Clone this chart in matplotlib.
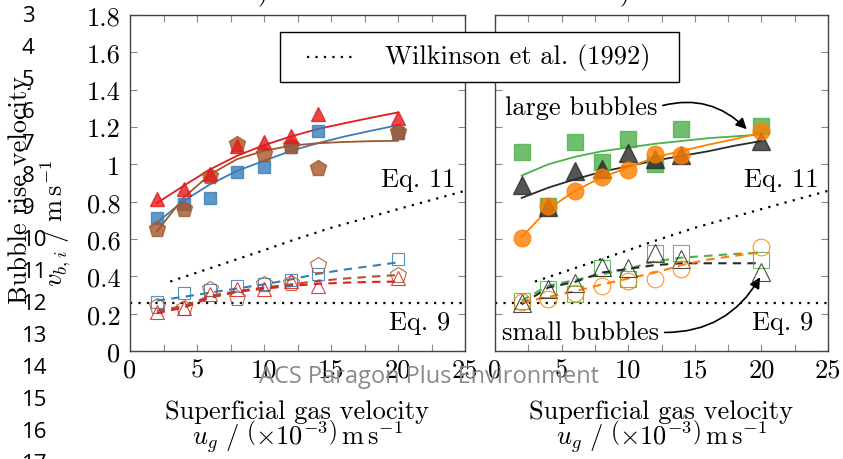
import matplotlib.pyplot as plt
from matplotlib.lines import Line2D
from matplotlib.patches import Rectangle
from matplotlib.ticker import MultipleLocator, FuncFormatter

# --- data ---
ug = [2, 4, 6, 8, 10, 12, 14, 20]                 # superficial gas velocity (x1e-3 m/s)
ug_fit = [2, 4, 6, 8, 10, 12, 14, 16, 18, 20]     # where the fitted curves were read

# left panel, large bubbles (filled markers)
left_blue_large = [0.715, 0.786, 0.817, 0.96, 0.987, 1.094, 1.18, 1.17]
left_red_large = [0.813, 0.87, 0.947, 1.10, 1.117, 1.15, 1.27, 1.25]
left_brown_large = [0.656, 0.763, 0.94, 1.108, 1.058, 1.10, 0.983, 1.175]
# left panel, small bubbles (open markers)
left_blue_small = [0.262, 0.313, 0.325, 0.348, 0.361, 0.379, 0.411, 0.491]
left_red_small = [0.209, 0.232, 0.304, 0.334, 0.334, 0.375, 0.348, 0.393]
left_brown_small = [0.241, 0.232, 0.330, 0.286, 0.357, 0.362, 0.459, 0.406]
# left panel fits
left_blue_fit = [0.688, 0.804, 0.894, 0.965, 1.019, 1.072, 1.113, 1.149, 1.18, 1.21]
left_red_fit = [0.792, 0.885, 0.974, 1.046, 1.103, 1.149, 1.189, 1.22, 1.25, 1.278]
left_brown_fit = [0.64, 0.822, 0.947, 1.028, 1.072, 1.10, 1.113, 1.12, 1.124, 1.126]
left_blue_fit_small = [0.27, 0.29, 0.313, 0.335, 0.357, 0.383, 0.413, 0.436, 0.455, 0.475]
left_red_fit_small = [0.203, 0.232, 0.286, 0.317, 0.334, 0.348, 0.36, 0.366, 0.37, 0.372]
left_brown_fit_small = [0.215, 0.241, 0.295, 0.321, 0.34, 0.357, 0.375, 0.388, 0.398, 0.407]

# right panel, large bubbles
right_green_large = [1.067, 0.777, 1.12, 1.013, 1.135, 1.0, 1.19, 1.206]
right_black_large = [0.89, 0.77, 0.965, 0.974, 1.06, 1.03, 1.05, 1.126]
right_orange_large = [0.608, 0.777, 0.858, 0.933, 0.97, 1.054, 1.05, 1.18]
# right panel, small bubbles
right_green_small = [0.268, 0.33, 0.304, 0.447, 0.388, 0.527, 0.527, 0.488]
right_black_small = [0.259, 0.33, 0.363, 0.452, 0.447, 0.527, 0.491, 0.423]
right_orange_small = [0.262, 0.277, 0.309, 0.348, 0.375, 0.384, 0.438, 0.557]
# right panel fits
right_green_fit = [0.94, 1.0, 1.04, 1.07, 1.09, 1.11, 1.125, 1.14, 1.15, 1.16]
right_black_fit = [0.82, 0.875, 0.92, 0.96, 0.99, 1.02, 1.045, 1.07, 1.10, 1.125]
right_orange_fit = [0.61, 0.76, 0.858, 0.93, 0.983, 1.037, 1.072, 1.105, 1.135, 1.17]
right_green_fit_small = [0.27, 0.35, 0.38, 0.41, 0.44, 0.48, 0.50, 0.51, 0.52, 0.527]
right_black_fit_small = [0.25, 0.34, 0.37, 0.42, 0.44, 0.46, 0.47, 0.47, 0.47, 0.47]
right_orange_fit_small = [0.26, 0.29, 0.32, 0.356, 0.388, 0.42, 0.46, 0.49, 0.51, 0.53]

# Wilkinson et al. (1992) correlations
eq11_x = [3, 5, 10, 12, 15, 20, 25]
eq11_v = [0.372, 0.42, 0.54, 0.59, 0.66, 0.76, 0.858]
eq9_x = [0, 25]
eq9_v = [0.257, 0.257]

# --- style ---
blue, red, brown = "#377eb8", "#e41a1c", "#a65628"
green, orange, black = "#4daf4a", "#ff7f00", "#2a2a2a"
plt.rcParams["font.family"] = "cmr10"
plt.rcParams["mathtext.fontset"] = "cm"
plt.rcParams["axes.unicode_minus"] = False
fs = 19
dotted = dict(color="black", lw=1.6, ls=(0, (1, 2.8)))

fig = plt.figure(figsize=(8.43, 4.6), dpi=100)
ax1 = fig.add_axes([130 / 843, 1 - 352 / 460, 335 / 843, 336 / 460])
ax2 = fig.add_axes([495 / 843, 1 - 352 / 460, 333 / 843, 336 / 460])


def series(ax, large, small, fit, fit_small, color, marker, ms):
    ax.plot(ug_fit, fit, color=color, lw=1.3, zorder=3)
    ax.plot(ug_fit, fit_small, color=color, lw=1.5, ls=(0, (4, 3)), zorder=3)
    ax.plot(ug, large, ls="none", marker=marker, ms=ms, mfc=color, mec=color,
            alpha=0.8, zorder=4)
    ax.plot(ug, small, ls="none", marker=marker, ms=ms, mfc="none", mec=color,
            mew=0.8, alpha=0.85, zorder=4)


series(ax1, left_blue_large, left_blue_small, left_blue_fit, left_blue_fit_small, blue, "s", 8.5)
series(ax1, left_brown_large, left_brown_small, left_brown_fit, left_brown_fit_small, brown, "p", 12)
series(ax1, left_red_large, left_red_small, left_red_fit, left_red_fit_small, red, "^", 10.5)

series(ax2, right_green_large, right_green_small, right_green_fit, right_green_fit_small, green, "s", 11.5)
series(ax2, right_black_large, right_black_small, right_black_fit, right_black_fit_small, black, "^", 13)
series(ax2, right_orange_large, right_orange_small, right_orange_fit, right_orange_fit_small, orange, "o", 12)

for ax in (ax1, ax2):
    ax.plot(eq11_x, eq11_v, zorder=2, **dotted)
    ax.plot(eq9_x, eq9_v, zorder=2, **dotted)
    ax.text(24.3, 0.92, "Eq. 11", ha="right", va="center", fontsize=fs)
    ax.text(23.9, 0.155, "Eq. 9", ha="right", va="center", fontsize=fs)

    ax.set_xlim(0, 25)
    ax.set_ylim(0, 1.8)
    ax.xaxis.set_major_locator(MultipleLocator(5))
    ax.xaxis.set_minor_locator(MultipleLocator(2.5))
    ax.yaxis.set_major_locator(MultipleLocator(0.2))
    ax.xaxis.set_major_formatter(FuncFormatter(lambda v, p: "%g" % v))
    ax.yaxis.set_major_formatter(FuncFormatter(lambda v, p: "%g" % round(v, 1)))
    ax.tick_params(which="both", direction="in", top=True, right=True, length=5,
                   width=0.8, color="#888888", labelsize=fs)
    ax.tick_params(axis="x", pad=5)
    ax.tick_params(axis="y", pad=7)
    for s in ax.spines.values():
        s.set_color("#444444")
        s.set_linewidth(1.0)

ax2.tick_params(labelleft=False)

# annotations on the right panel
ax2.annotate("large bubbles", xy=(18.9, 1.188), xytext=(0.75, 1.307),
             ha="left", va="center", fontsize=fs,
             arrowprops=dict(arrowstyle="-|>", color="black", lw=1.2, mutation_scale=16,
                             connectionstyle="arc3,rad=-0.3", relpos=(1.0, 0.5),
                             shrinkA=2, shrinkB=0))
ax2.annotate("small bubbles", xy=(19.9, 0.395), xytext=(0.53, 0.1),
             ha="left", va="center", fontsize=fs,
             arrowprops=dict(arrowstyle="-|>", color="black", lw=1.2, mutation_scale=16,
                             connectionstyle="arc3,rad=0.3", relpos=(1.0, 0.5),
                             shrinkA=2, shrinkB=0))

# legend box shared by both panels (drawn by hand: wide side padding)
fig.add_artist(Rectangle((280 / 843, 1 - 83 / 460), 399 / 843, 50 / 460,
                         transform=fig.transFigure, facecolor="white",
                         edgecolor="black", lw=1.0, zorder=5))
fig.add_artist(Line2D([307 / 843, 352 / 843], [1 - 58 / 460, 1 - 58 / 460],
                      transform=fig.transFigure, zorder=6, **dotted))
fig.text(385 / 843, 1 - 58 / 460, "Wilkinson et al. (1992)", ha="left",
         va="center", fontsize=fs, zorder=6)

# axis labels
fig.text(20 / 843, 1 - 190 / 460, "Bubble rise velocity", rotation=90,
         ha="center", va="center", fontsize=fs)
fig.text(56 / 843, 1 - 223 / 460, r"$v_{b,i}\ /\ \mathrm{m\,s}^{-1}$", rotation=90,
         ha="center", va="center", fontsize=fs)
for cx in (297, 661):
    fig.text(cx / 843, 1 - 412 / 460, "Superficial gas velocity",
             ha="center", va="center", fontsize=fs)
    fig.text(cx / 843, 1 - 437 / 460,
             r"$u_g\ /\ \left(\times 10^{-3}\right)\,\mathrm{m\,s}^{-1}$",
             ha="center", va="center", fontsize=fs)

# page artefacts of the scanned manuscript
for cx in (263, 625):
    fig.text(cx / 843, 1 + 1 / 460, ")", ha="center", va="baseline", fontsize=fs)
for n in range(3, 18):
    fig.text(22 / 843, 1 - (17 + (n - 3) * 32) / 460, str(n), ha="left",
             va="center", family="Open Sans", fontsize=16)
fig.text(429 / 843, 1 - 377 / 460, "ACS Paragon Plus Environment", ha="center",
         va="center", color="#8a8a8a", family="Open Sans", fontsize=17, zorder=10)

plt.savefig("out.png", dpi=100)
